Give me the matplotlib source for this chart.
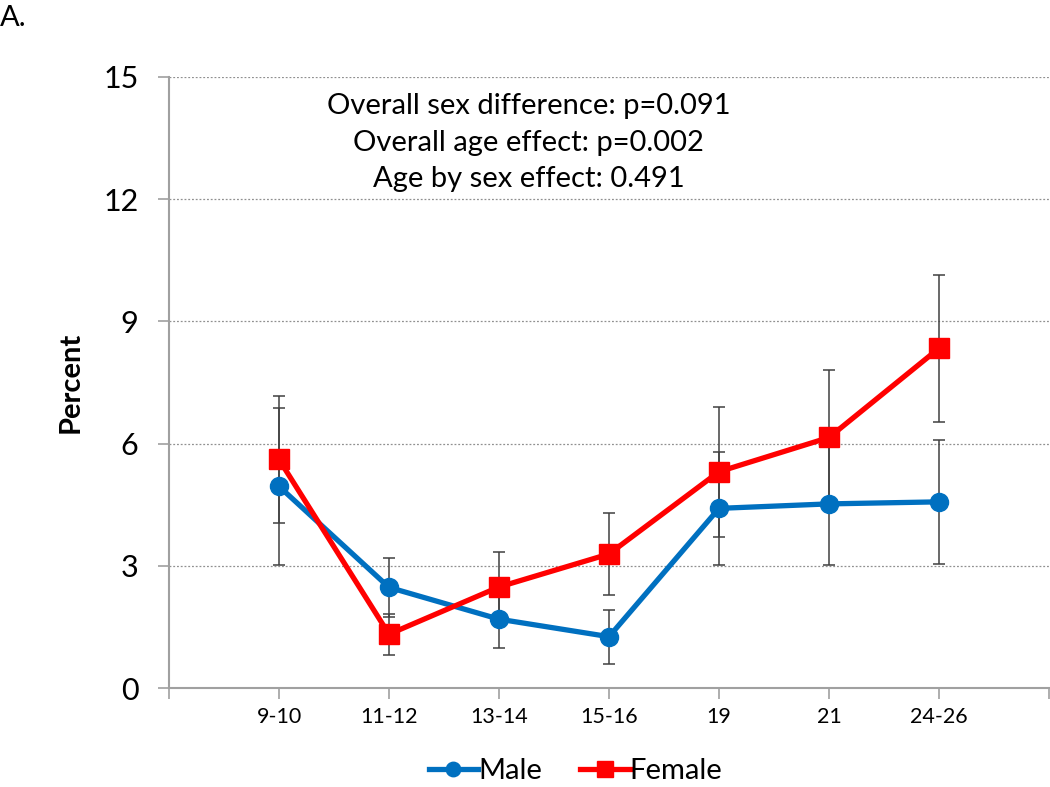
import numpy as np
import matplotlib.pyplot as plt

plt.rcParams['font.family'] = ['Lato', 'DejaVu Sans']

ages = ["9-10", "11-12", "13-14", "15-16", "19", "21", "24-26"]
male = [4.95, 2.47, 1.69, 1.26, 4.41, 4.52, 4.57]
male_err = [1.92, 0.73, 0.71, 0.66, 1.39, 1.50, 1.53]
female = [5.61, 1.32, 2.48, 3.29, 5.31, 6.15, 8.34]
female_err = [1.57, 0.50, 0.87, 1.01, 1.60, 1.66, 1.80]

stats_text = ("Overall sex difference: p=0.091\n"
              "Overall age effect: p=0.002\n"
              "Age by sex effect: 0.491")

fig = plt.figure(figsize=(10.5, 7.87), dpi=100)
ax = fig.add_axes([169 / 1050, 1 - 688 / 787, 880 / 1050, 611 / 787])

x = np.arange(1, len(ages) + 1)

# error bars first, lines and markers on top
ax.errorbar(x, male, yerr=male_err, fmt="none", ecolor="#404040",
            elinewidth=1.1, capsize=4, capthick=1.1, zorder=2)
ax.errorbar(x, female, yerr=female_err, fmt="none", ecolor="#404040",
            elinewidth=1.1, capsize=4, capthick=1.1, zorder=2)
ax.plot(x, male, "-o", color="#0070C0", lw=3.8, ms=13, label="Male", zorder=3)
ax.plot(x, female, "-s", color="#FF0000", lw=3.8, ms=15, label="Female", zorder=4)

ax.set_xlim(0, 8)
ax.set_ylim(0, 15)
ax.set_yticks([0, 3, 6, 9, 12, 15])
ax.set_xticks(np.arange(0, 9))
ax.set_xticklabels([""] + ages + [""])
ax.tick_params(axis="both", direction="out", color="#A0A0A0", length=8, width=1.2)
ax.tick_params(axis="y", labelsize=22, pad=14)
ax.tick_params(axis="x", labelsize=15.5, pad=6)

ax.grid(axis="y", linestyle=(0, (1.5, 1.5)), color="#909090", lw=0.9)
ax.set_axisbelow(True)
for s in ["top", "right"]:
    ax.spines[s].set_visible(False)
for s in ["left", "bottom"]:
    ax.spines[s].set_color("#A0A0A0")
    ax.spines[s].set_linewidth(1.5)

ax.set_ylabel("Percent", fontsize=21, fontweight="bold", labelpad=14)

ax.text(0.409, 0.973, stats_text, transform=ax.transAxes, ha="center",
        va="top", fontsize=21, linespacing=1.5)

fig.text(0.0, 0.977, "A.", fontsize=21, ha="left", va="center")

fig.legend(loc="center", bbox_to_anchor=(0.548, 0.02), ncol=2, frameon=False,
           fontsize=21, handlelength=1.7, handletextpad=0.0, columnspacing=1.3,
           markerscale=0.8)

fig.savefig("out.png", dpi=100)
